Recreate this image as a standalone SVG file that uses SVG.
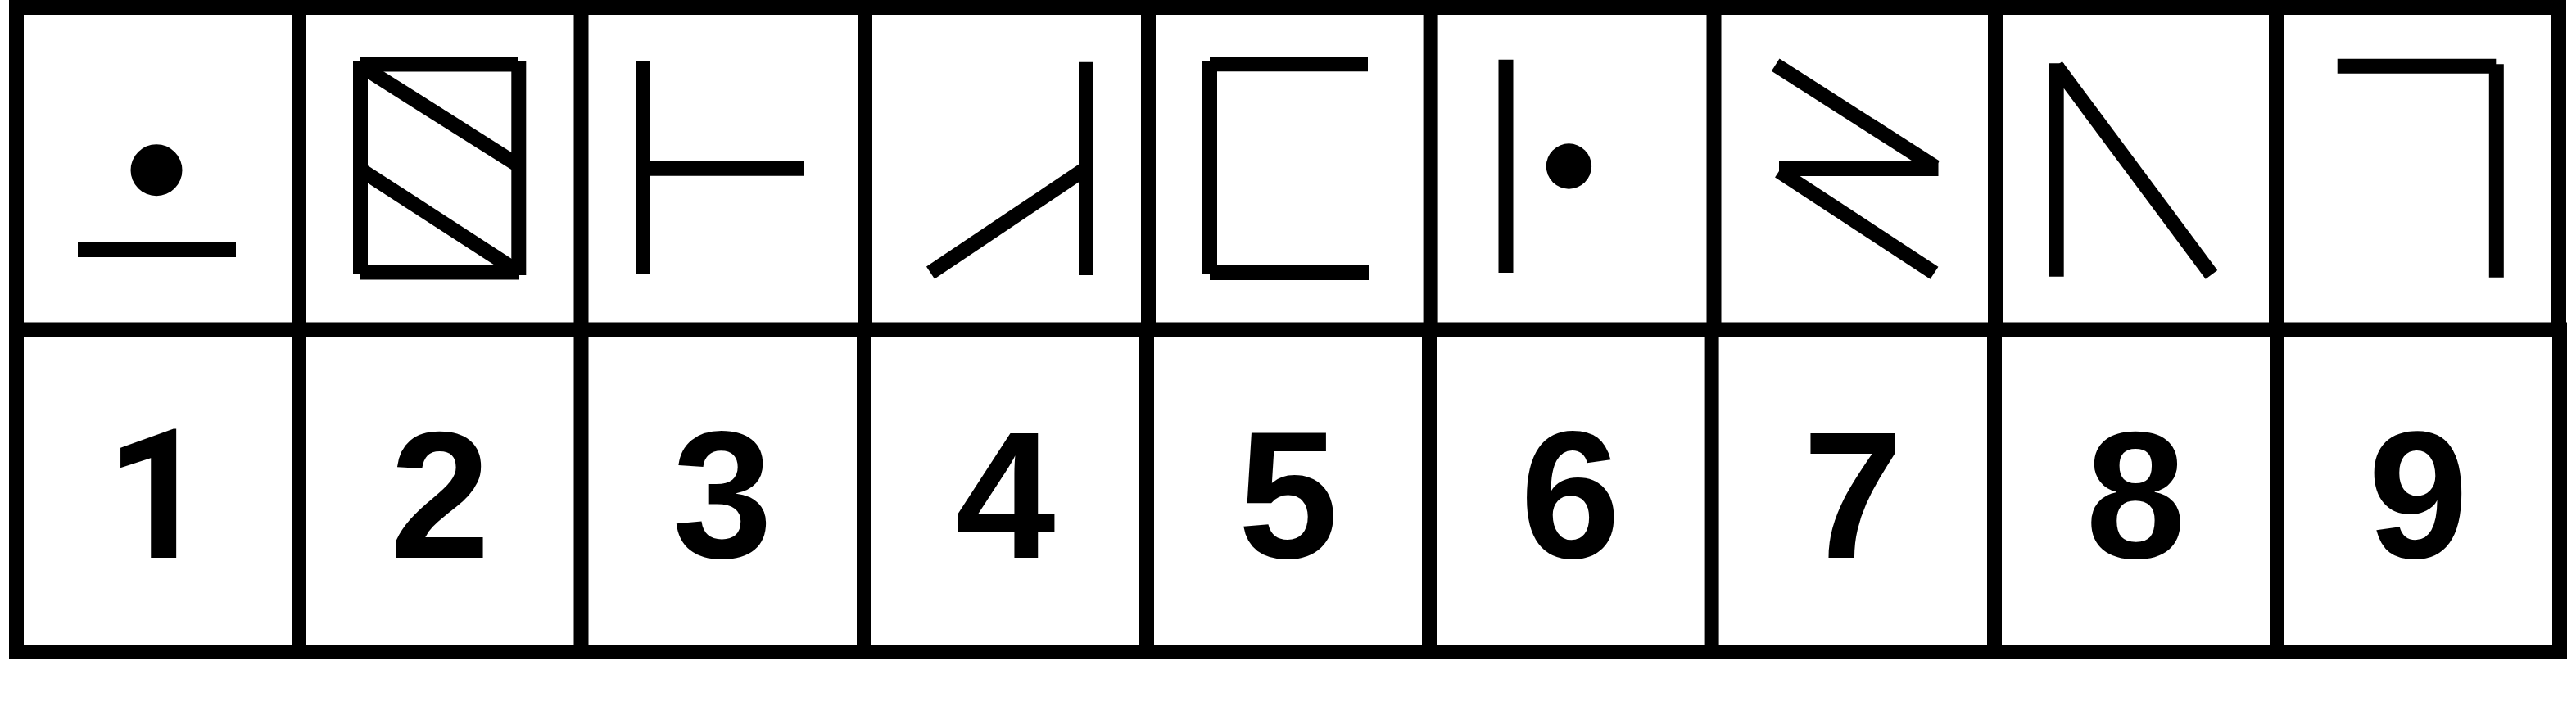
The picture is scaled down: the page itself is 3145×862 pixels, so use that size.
<svg xmlns="http://www.w3.org/2000/svg" width="3145" height="862" viewBox="0 0 3145 862">
<style>
.s{stroke:#000;stroke-width:18;fill:none;stroke-linecap:butt}
.d{fill:#000}
</style>
<rect x="0" y="0" width="3145" height="862" fill="#fff"/>
<g id="grid" class="s">
<line x1="11" y1="9" x2="3133" y2="9"/>
<line x1="11" y1="402.5" x2="3134" y2="402.5"/>
<line x1="11" y1="796" x2="3134" y2="796"/>
<line x1="20" y1="0" x2="20" y2="805"/>
<line x1="3124" y1="0" x2="3124" y2="402"/>
<line x1="3125" y1="402" x2="3125" y2="805"/>
<line x1="365" y1="0" x2="365" y2="805"/>
<line x1="709.5" y1="0" x2="709.5" y2="805"/>
<line x1="1056" y1="0" x2="1056" y2="402"/>
<line x1="1055" y1="402" x2="1055" y2="805"/>
<line x1="1402" y1="0" x2="1402" y2="402"/>
<line x1="1400" y1="402" x2="1400" y2="805"/>
<line x1="1746.6" y1="0" x2="1746.6" y2="402"/>
<line x1="1745" y1="402" x2="1745" y2="805"/>
<line x1="2092.5" y1="0" x2="2092.5" y2="402"/>
<line x1="2089.6" y1="402" x2="2089.6" y2="805"/>
<line x1="2436" y1="0" x2="2436" y2="402"/>
<line x1="2435" y1="402" x2="2435" y2="805"/>
<line x1="2779" y1="0" x2="2779" y2="402"/>
<line x1="2780" y1="402" x2="2780" y2="805"/>
</g>
<g id="connectors"></g>
<g id="symbol1">
<circle class="d" cx="191" cy="207.7" r="31.5"/>
<line class="s" x1="95" y1="305" x2="288" y2="305"/>
</g>
<g id="symbol2" class="s">
<line x1="440" y1="75" x2="440" y2="335"/>
<line x1="440" y1="78.5" x2="633" y2="78.5"/>
<line x1="633.3" y1="75" x2="633.3" y2="336"/>
<line x1="440" y1="332.5" x2="634" y2="332.5"/>
<line x1="440" y1="80" x2="633" y2="202"/>
<line x1="440" y1="207" x2="633" y2="332"/>
</g>
<g id="symbol3" class="s">
<line x1="785" y1="74.3" x2="785" y2="335"/>
<line x1="785" y1="205.7" x2="982" y2="205.7"/>
</g>
<g id="symbol4" class="s">
<line x1="1326" y1="75.7" x2="1326" y2="336"/>
<line x1="1136" y1="333" x2="1326" y2="205.5"/>
</g>
<g id="symbol5" class="s">
<line x1="1477" y1="75" x2="1477" y2="334.7"/>
<line x1="1477" y1="78.3" x2="1670" y2="78.3"/>
<line x1="1477" y1="333" x2="1671" y2="333"/>
</g>
<g id="symbol6">
<line class="s" x1="1838.5" y1="72.7" x2="1838.5" y2="333"/>
<circle class="d" cx="1915.4" cy="203" r="27.7"/>
</g>
<g id="symbol7" class="s">
<line x1="2167.7" y1="79.2" x2="2363" y2="204"/>
<line x1="2172" y1="206" x2="2366.5" y2="206"/>
<line x1="2172" y1="209" x2="2361.5" y2="333.2"/>
</g>
<g id="symbol8" class="s">
<line x1="2510.7" y1="77.3" x2="2510.7" y2="337.7"/>
<line x1="2510.5" y1="80.4" x2="2700" y2="335.3"/>
</g>
<g id="symbol9" class="s">
<line x1="2853.7" y1="80.7" x2="3047.3" y2="80.7"/>
<line x1="3047.8" y1="78.2" x2="3047.8" y2="338.8"/>
</g>
<g id="labels" font-family="'Liberation Sans', Arial, sans-serif" font-weight="700" font-size="220" fill="#000" text-anchor="middle">
<g id="label1"><text x="192" y="681" font-family="Roboto, 'Liberation Sans', sans-serif">1</text></g>
<g id="label2"><text x="537.3" y="681">2</text></g>
<g id="label3"><text x="882" y="681">3</text></g>
<g id="label4"><text x="1227.5" y="681">4</text></g>
<g id="label5"><text x="1572.7" y="681">5</text></g>
<g id="label6"><text x="1917.2" y="681">6</text></g>
<g id="label7"><text x="2262.3" y="681">7</text></g>
<g id="label8"><text x="2607.5" y="681">8</text></g>
<g id="label9"><text x="2952.3" y="681">9</text></g>
</g>
</svg>
